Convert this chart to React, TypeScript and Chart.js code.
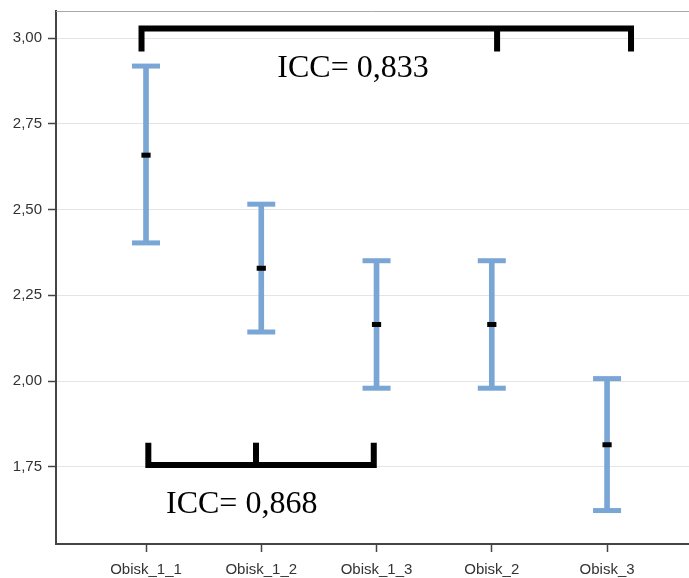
import React, { useEffect, useRef } from "react";
import { Chart, registerables } from "chart.js";

Chart.register(...registerables);

// ---- data ----
const CATEGORIES = ["Obisk_1_1", "Obisk_1_2", "Obisk_1_3", "Obisk_2", "Obisk_3"];
const MEANS = [2.659, 2.329, 2.165, 2.165, 1.814];
const UPPER = [2.919, 2.516, 2.351, 2.351, 2.007];
const LOWER = [2.403, 2.143, 1.979, 1.979, 1.622];
const Y_TICKS = [1.75, 2.0, 2.25, 2.5, 2.75, 3.0];
const ICC_LABELS = ["ICC= 0,833", "ICC= 0,868"];

// ---- annotation placement (data coordinates) ----
const TOP_BRACKET_X = [-0.039, 3.046, 4.208];
const TOP_BRACKET_Y = [3.0286, 2.9615];
const BOTTOM_BRACKET_X = [0.02, 0.954, 1.976];
const BOTTOM_BRACKET_Y = [1.7549, 1.82];
const ICC_X = [1.796, 0.83];
const ICC_Y = [2.887, 1.614];

const BLUE = "#7aa6d6";
const AXIS = "#444444";
const TICK_FONT = { family: "'Liberation Sans', Arial, sans-serif", size: 15 };

const annotationPlugin = {
  id: "annot",
  beforeDatasetsDraw(chart: any) {
    const { ctx, chartArea } = chart;
    ctx.save();
    ctx.strokeStyle = "#a8a8a8";
    ctx.lineWidth = 1;
    ctx.beginPath();
    ctx.moveTo(chartArea.left, chartArea.top + 0.5);
    ctx.lineTo(chartArea.right, chartArea.top + 0.5);
    ctx.stroke();
    ctx.restore();
  },
  afterDatasetsDraw(chart: any) {
    const { ctx } = chart;
    const xs = chart.scales.x;
    const ys = chart.scales.y;
    ctx.save();
    ctx.font = "32px 'Liberation Serif', 'Times New Roman', serif";
    ctx.fillStyle = "#000";
    ctx.textAlign = "center";
    ctx.textBaseline = "alphabetic";
    ICC_LABELS.forEach((t, i) => {
      ctx.fillText(t, xs.getPixelForValue(ICC_X[i]), ys.getPixelForValue(ICC_Y[i]));
    });
    ctx.restore();
  },
};

function bracket(xs: number[], ys: number[]) {
  const [l, m, r] = xs;
  const [bar, tip] = ys;
  return [
    [
      { x: l, y: tip },
      { x: l, y: bar },
      { x: r, y: bar },
      { x: r, y: tip },
    ],
    [
      { x: m, y: bar },
      { x: m, y: tip },
    ],
  ];
}

function zeroPad(s: any) {
  s.paddingTop = 0;
  s.paddingBottom = 0;
  s.paddingLeft = 0;
  s.paddingRight = 0;
}

export default function App() {
  const ref = useRef<HTMLCanvasElement | null>(null);

  useEffect(() => {
    if (!ref.current) return;
    const topB = bracket(TOP_BRACKET_X, TOP_BRACKET_Y);
    const botB = bracket(BOTTOM_BRACKET_X, BOTTOM_BRACKET_Y);
    const lineDs = (data: any[]) => ({
      type: "scatter" as const,
      data,
      showLine: true,
      borderColor: "#000",
      borderWidth: 6,
      borderCapStyle: "butt",
      borderJoinStyle: "miter",
      pointRadius: 0,
      pointHoverRadius: 0,
      tension: 0,
    });

    const chart = new Chart(ref.current, {
      type: "scatter",
      data: {
        datasets: [
          {
            type: "scatter",
            data: MEANS.map((v, i) => ({ x: i, y: v })),
            pointStyle: "line",
            pointRadius: 4.6,
            pointHoverRadius: 4.6,
            pointBorderColor: "#000",
            pointBorderWidth: 5,
            pointBackgroundColor: "#000",
          } as any,
          {
            type: "scatter",
            data: [
              ...UPPER.map((v, i) => ({ x: i, y: v })),
              ...LOWER.map((v, i) => ({ x: i, y: v })),
            ],
            pointStyle: "line",
            pointRadius: 14,
            pointHoverRadius: 14,
            pointBorderColor: BLUE,
            pointBorderWidth: 5,
            pointBackgroundColor: BLUE,
          } as any,
          {
            type: "bar",
            data: LOWER.map((v, i) => ({ x: i, y: [v, UPPER[i]] })),
            backgroundColor: BLUE,
            borderWidth: 0,
            barThickness: 5,
          } as any,
          lineDs(topB[0]) as any,
          lineDs(topB[1]) as any,
          lineDs(botB[0]) as any,
          lineDs(botB[1]) as any,
        ],
      },
      options: {
        animation: false,
        responsive: false,
        maintainAspectRatio: false,
        layout: { autoPadding: false, padding: { top: 11, left: 0, right: 0, bottom: 0 } },
        plugins: {
          legend: { display: false },
          tooltip: { enabled: false },
        },
        events: [],
        scales: {
          x: {
            type: "linear",
            min: -0.781,
            max: 4.711,
            offset: false,
            afterBuildTicks: (s: any) => {
              s.ticks = CATEGORIES.map((_, i) => ({ value: i }));
            },
            afterFit: (s: any) => {
              s.height = 34;
              zeroPad(s);
            },
            ticks: {
              autoSkip: false,
              maxRotation: 0,
              minRotation: 0,
              padding: 9,
              color: "#333",
              font: TICK_FONT,
              callback: (v: any) => CATEGORIES[Math.round(Number(v))] ?? "",
            },
            grid: {
              drawOnChartArea: false,
              drawTicks: true,
              tickLength: 8,
              tickColor: AXIS,
              tickWidth: 1.5,
              offset: false,
            },
            border: { display: true, color: AXIS, width: 2 },
          },
          y: {
            type: "linear",
            min: 1.5244,
            max: 3.0797,
            beginAtZero: false,
            afterBuildTicks: (s: any) => {
              s.ticks = Y_TICKS.map((v) => ({ value: v }));
            },
            afterFit: (s: any) => {
              s.width = 56;
              zeroPad(s);
            },
            ticks: {
              padding: 6,
              color: "#333",
              font: TICK_FONT,
              callback: (v: any) => Number(v).toFixed(2).replace(".", ","),
            },
            grid: {
              color: "#e4e4e4",
              lineWidth: 1,
              drawTicks: true,
              tickLength: 8,
              tickColor: AXIS,
              tickWidth: 1.5,
            },
            border: { display: true, color: AXIS, width: 2 },
          },
        },
      } as any,
      plugins: [annotationPlugin],
    });
    return () => chart.destroy();
  }, []);

  return (
    <div style={{ position: "absolute", left: 0, top: 0, width: 689, height: 578, background: "#fff" }}>
      <canvas ref={ref} width={689} height={578} style={{ display: "block" }} />
    </div>
  );
}
